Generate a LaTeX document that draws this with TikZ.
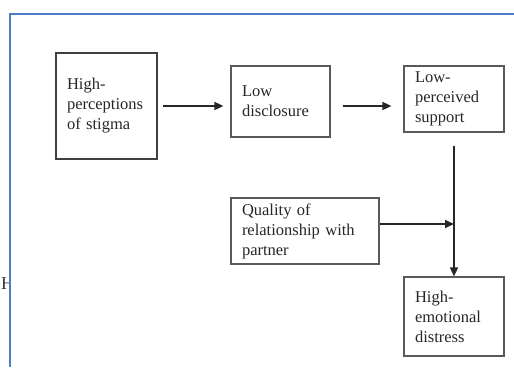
\documentclass[tikz,border=0pt]{standalone}
\usepackage{fontspec}
\setmainfont{Liberation Serif}
\usetikzlibrary{arrows.meta, positioning, calc}

\tikzset{
    factor/.style={draw=black!65, line width=1.2pt, align=left, inner xsep=11pt,
        inner ysep=0pt, text=black!85, font=\fontsize{16.5}{20}\selectfont},
    link/.style={line width=1.6pt, black!85, -{Triangle[length=9pt,width=8pt]}}
}

\begin{document}
\begin{tikzpicture}[x=1pt, y=-1pt]
    \useasboundingbox (0,0) rectangle (514,367);
    % ---- cut-off letter on the left ----
    \begin{scope}
        \clip (0,0) rectangle (10,367);
        \node[anchor=west, inner sep=0pt, text=black!80, font=\fontsize{18}{20}\selectfont] (cut) at (1,284) {H};
    \end{scope}
    % ---- frame ----
    \draw[line width=2.4pt, color={rgb,255:red,74;green,127;blue,200}] (10,367) -- (10,14) -- (514,14);
    % ---- boxes ----
    \node[factor, draw=black!75, line width=1.6pt, text width={101pt-22pt}, minimum height=106pt] (stigma) at (106.5,106) {High-\\perceptions\\of stigma};
    \node[factor, text width={99pt-22pt}, minimum height=71pt] (disclosure) at (280.5,101.5) {Low\\disclosure};
    \node[factor, text width={100pt-22pt}, minimum height=66pt] (support) at (454,99) {Low-\\perceived\\support};
    \node[factor, text width={148pt-22pt}, minimum height=66pt] (quality) at (305,231) {Quality of\\relationship with\\partner};
    \node[factor, text width={100pt-22pt}, minimum height=79pt] (distress) at (454,316.5) {High-\\emotional\\distress};
    % ---- arrows ----
    \draw[link, shorten <=5pt, shorten >=7pt] (stigma.east) -- (stigma.east -| disclosure.west);
    \draw[link, shorten <=12pt, shorten >=12pt] (disclosure.east |- stigma.east) -- (support.west |- stigma.east);
    \draw[link, shorten <=13pt] (support.south) -- (distress.north);
    \coordinate (meet) at ($(support.south |- quality.east)+(0,-7)$);
    \draw[link] ($(quality.east)+(0,-7)$) -- (meet);
\end{tikzpicture}
\end{document}
